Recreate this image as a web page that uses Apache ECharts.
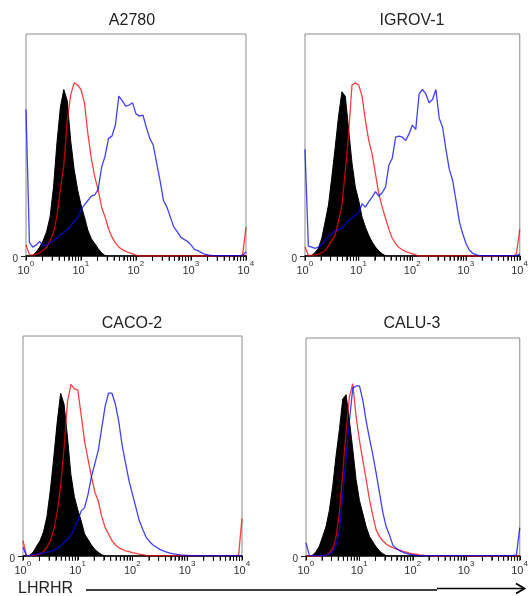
<!DOCTYPE html>
<html><head><meta charset="utf-8">
<script src="https://cdn.jsdelivr.net/npm/echarts@6/dist/echarts.min.js"></script>
<style>html,body{margin:0;padding:0;background:#fff}#c{width:531px;height:596px}</style>
</head><body><div id="c"></div>
<script>
// Fluorescence channels (log scale, 16 channels per decade)
const channels = [
  1, 1.155, 1.334, 1.54, 1.778, 2.054, 2.371, 2.738, 3.162, 3.652, 4.217, 4.87, 5.623, 6.494, 7.499, 8.66,
  10, 11.55, 13.34, 15.4, 17.78, 20.54, 23.71, 27.38, 31.62, 36.52, 42.17, 48.7, 56.23, 64.94, 74.99, 86.6,
  100, 115.5, 133.4, 154, 177.8, 205.4, 237.1, 273.8, 316.2, 365.2, 421.7, 487, 562.3, 649.4, 749.9, 866,
  1000, 1155, 1334, 1540, 1778, 2054, 2371, 2738, 3162, 3652, 4217, 4870, 5623, 6494, 7499, 8660,
  10000];
const panelTitles = ['A2780', 'IGROV-1', 'CACO-2', 'CALU-3'];
const majorTicks = [1, 10, 100, 1000, 10000];
const allTicks = [1,2,3,4,5,6,7,8,9, 10,20,30,40,50,60,70,80,90, 100,200,300,400,500,600,700,800,900, 1000,2000,3000,4000,5000,6000,7000,8000,9000, 10000];
const yTickLabels = [0];
const axisTitle = 'LHRHR';

// A2780
const a2780Black = [
  0,0,0.3,1.8,4,7,11,17.6,31,51,67,75,70,52,39,30,
  23,17.6,11.6,7.8,5.6,3.3,1.4,0.2,0,0,0,0,0,0,0,0,
  0,0,0,0,0,0,0,0,0,0,0,0,0,0,0,0,
  0,0,0,0,0,0,0,0,0,0,0,0,0,0,0,0,
  0];
const a2780Red = [
  5,0.5,0.5,0.8,1.5,2.5,4,7,10.5,18,30,41,61,72.6,78,77,
  75,69,55,44,35.7,29.7,22,17.6,12.3,8.6,5.9,4,2.9,2.1,1.5,1,
  0.4,0,0,0,0,0,0,0,0,0,0,0,0,0,0,0,
  0,0,0,0,0,0,0,0,0,0,0,0,0,0,0,0.5,
  13];
const a2780Blue = [
  66,6,4,5,6.5,4.5,5,6,7,8,9.5,10.5,12,13.5,15.5,17,
  21,23,25,27,27.5,30,40,45,53,54,59,72,70,67.5,68,69,
  64,63,63.5,58,53,50,42,34,25,22,17.5,13,11,8.5,7.5,6.5,
  5,3,2.4,1.5,0.8,0.5,0.3,0.2,0.2,0.2,0.2,0.2,0.2,0.2,0.2,0.2,
  2];
// IGROV-1
const igrovBlack = [
  0,0,0.3,1.5,3.5,8,15.4,23,35.7,49,63,74,72,57,42,31,
  25,17.6,13,9.3,6.3,4,2.3,1,0.1,0,0,0,0,0,0,0,
  0,0,0,0,0,0,0,0,0,0,0,0,0,0,0,0,
  0,0,0,0,0,0,0,0,0,0,0,0,0,0,0,0,
  0];
const igrovRed = [
  4,0.3,0.3,0.5,0.8,1.5,2.5,4.5,7,9.5,16,23,38,55,77,78,
  77,72,61,52,46,37,28,22,17,12,8,5.6,3.8,2.8,2,1.5,
  0.9,0.5,0,0,0,0,0,0,0,0,0,0,0,0,0,0,
  0,0,0,0,0,0,0,0,0,0,0,0,0,0,0,1,
  12];
const igrovBlue = [
  48,4.5,4,3.4,4,5,7,9,10,11.5,12,12.5,14.5,16,17,18.5,
  19.5,23.5,22,24.5,26.5,29,27,28.5,31,41,44,53.5,54,53.5,52,55,
  59,57,73,75,73,69,70.5,75,62,58,48,39,34,25,15.5,10,
  5.5,2.6,1.2,0.6,0.2,0.2,0.2,0.2,0.2,0.2,0.2,0.2,0.2,0.2,0.2,0.2,
  1];
// CACO-2
const caco2Black = [
  0,0,0.3,1.8,4.5,7,11,18,30,45,61,74,69,54,37,27,
  21,16,10,7.5,5,3,1.7,0.6,0,0,0,0,0,0,0,0,
  0,0,0,0,0,0,0,0,0,0,0,0,0,0,0,0,
  0,0,0,0,0,0,0,0,0,0,0,0,0,0,0,0,
  0];
const caco2Red = [
  7,0.3,0.3,0.3,0.5,1,2,4,7,12,20,32,49,70,78,76,
  75.5,64,52,44,36,29,25,18,13,10,7,5,3.8,3,2.3,2,
  1.5,1.2,0.8,0.6,0.3,0.2,0.2,0.2,0.2,0.2,0.2,0.2,0.2,0.2,0.2,0.2,
  0.2,0.2,0.2,0.2,0.2,0.2,0.2,0.2,0.2,0.2,0.2,0.2,0.2,0.2,0.2,0.5,
  17];
const caco2Blue = [
  4,0.2,0.3,0.6,0.9,1.1,1.5,1.8,2,2.7,3.5,4.5,6,7.5,9.5,12.5,
  16,20.5,22,28,36,42,48,58,68,74,74,69,61,50,42,34,
  28,22,16,12,8.5,6.5,5,4,3,2.3,1.8,1.3,1,0.7,0.5,0.4,
  0.3,0.2,0.2,0.2,0.2,0.2,0.2,0.2,0.2,0.2,0.2,0.2,0.2,0.2,0.2,0.2,
  0.2];
// CALU-3
const calu3Black = [
  0,0,0.4,2,4.5,9,13.5,21,32,46,58,72,74,62,49,35,
  25.5,19.5,13.5,9,6.5,4.2,2.3,1,0.2,0,0,0,0,0,0,0,
  0,0,0,0,0,0,0,0,0,0,0,0,0,0,0,0,
  0,0,0,0,0,0,0,0,0,0,0,0,0,0,0,0,
  0];
const calu3Red = [
  0,0,0,0,0,0,0.2,1.5,3.5,9,20,38,57,73,79,64,
  53,44,35,26,18.5,12,9,7,5.5,4.5,3.8,3.3,2.7,2.1,1.8,1.3,
  1,0.8,0.5,0.4,0.2,0.1,0,0,0,0,0,0,0,0,0,0,
  0,0,0,0,0,0,0,0,0,0,0,0,0,0,0,0,
  0];
const calu3Blue = [
  6,0.3,0.2,0.2,0.2,0.2,0.4,0.9,2,5,12,28,45,62,77,78,
  78,71.5,62,54,46.5,38,29,20,13.5,9.5,5,3.5,2.5,1.7,1.2,0.8,
  0.6,0.3,0.2,0.2,0.2,0.2,0.2,0.2,0.2,0.2,0.2,0.2,0.2,0.2,0.2,0.2,
  0.2,0.2,0.2,0.2,0.2,0.2,0.2,0.2,0.2,0.2,0.2,0.2,0.2,0.2,0.2,0.5,
  13];

const panelData = [
  [a2780Black, a2780Red, a2780Blue],
  [igrovBlack, igrovRed, igrovBlue],
  [caco2Black, caco2Red, caco2Blue],
  [calu3Black, calu3Red, calu3Blue]
];

// Layout (pixels)
const FONT = '"Liberation Sans", Arial, Helvetica, sans-serif';
const gridBoxes = [
  {left: 26, top: 34, width: 220, height: 222},
  {left: 305, top: 34, width: 220, height: 222},
  {left: 23, top: 336, width: 219, height: 220},
  {left: 306, top: 338, width: 222, height: 218}
];
const titlePos = [[132, 21], [412, 21], [132, 324], [412, 324]];
const RED = '#ff0000';
const BLUE = '#0000ff';
const TICK_LEN = 4;

const chart = echarts.init(document.getElementById('c'));

const grid = [], xAxis = [], yAxis = [], series = [], graphic = [];
gridBoxes.forEach((g, i) => {
  grid.push(Object.assign({show: true, borderColor: '#8c8c8c', borderWidth: 1}, g));
  // main axis: line, ticks, "10" base labels
  xAxis.push({
    type: 'log', logBase: 10, gridIndex: i, min: 1, max: 10000, position: 'bottom', offset: 0,
    axisLine: {show: true, lineStyle: {color: '#111', width: 1.5}},
    axisTick: {show: true, customValues: allTicks, length: TICK_LEN, lineStyle: {color: '#000', width: 1}},
    axisLabel: {
      customValues: majorTicks, margin: 9, color: '#333', fontFamily: FONT, fontSize: 11,
      padding: [0, 5, 0, 0],
      formatter: () => '10'
    },
    splitLine: {show: false}
  });
  // overlay axis: exponent labels (superscripts)
  xAxis.push({
    type: 'log', logBase: 10, gridIndex: i, min: 1, max: 10000, position: 'bottom', offset: 0,
    axisLine: {show: false},
    axisTick: {show: false},
    axisLabel: {
      customValues: majorTicks, margin: 4, color: '#333', fontFamily: FONT, fontSize: 8,
      padding: [0, 0, 0, 12],
      formatter: v => String(Math.round(Math.log10(v)))
    },
    splitLine: {show: false}
  });
  yAxis.push({
    type: 'value', gridIndex: i, min: 0, max: 100,
    axisLine: {show: false},
    axisTick: {show: true, customValues: yTickLabels, length: 5, lineStyle: {color: '#222'}},
    axisLabel: {customValues: yTickLabels, fontSize: 10, lineHeight: 7, color: '#333', margin: 8, verticalAlign: 'top', fontFamily: FONT},
    splitLine: {show: false}
  });
  const [blk, red, blue] = panelData[i];
  const mk = arr => channels.map((c, k) => [c, arr[k]]);
  series.push({
    type: 'line', xAxisIndex: 2 * i, yAxisIndex: i, data: mk(blk), symbol: 'none', z: 2,
    lineStyle: {color: '#000', width: 1}, areaStyle: {color: '#000', opacity: 1}, silent: true
  });
  series.push({
    type: 'line', xAxisIndex: 2 * i, yAxisIndex: i, data: mk(red), symbol: 'none', z: 3,
    lineStyle: {color: RED, width: 1.3, opacity: 0.75}, silent: true
  });
  series.push({
    type: 'line', xAxisIndex: 2 * i, yAxisIndex: i, data: mk(blue), symbol: 'none', z: 4,
    lineStyle: {color: BLUE, width: 1.3, opacity: 0.75}, silent: true
  });
  // log-decade tick marks placed through the axis scale (backup for axis ticks)
  series.push({
    type: 'custom', xAxisIndex: 2 * i, yAxisIndex: i, silent: true, clip: false, z: 10,
    data: allTicks.map(v => [v, 0]),
    encode: {x: 0, y: 1},
    renderItem: (params, api) => {
      const p = api.coord([api.value(0), 0]);
      return {
        type: 'line',
        shape: {x1: p[0], y1: p[1], x2: p[0], y2: p[1] + TICK_LEN + 1},
        style: {stroke: '#111', lineWidth: 1}
      };
    }
  });
  graphic.push({
    type: 'text', x: titlePos[i][0], y: titlePos[i][1],
    style: {text: panelTitles[i], fill: '#222', font: '16px ' + FONT, textAlign: 'center', textVerticalAlign: 'middle'}
  });
});

graphic.push({
  type: 'text', x: 18, y: 589,
  style: {text: axisTitle, fill: '#222', font: '16px ' + FONT, textAlign: 'left', textVerticalAlign: 'middle'}
});
graphic.push({type: 'line', shape: {x1: 86, y1: 590, x2: 437, y2: 590}, style: {stroke: '#000', lineWidth: 1.6}});
graphic.push({type: 'line', shape: {x1: 437, y1: 588.5, x2: 524, y2: 588.5}, style: {stroke: '#000', lineWidth: 1.6}});
graphic.push({type: 'polyline', shape: {points: [[516, 583.5], [524.5, 588.5], [516, 593.5]]}, style: {stroke: '#000', lineWidth: 1.8, fill: null}});

chart.setOption({
  animation: false,
  backgroundColor: '#fff',
  grid, xAxis, yAxis, series, graphic
});
</script>
</body></html>
